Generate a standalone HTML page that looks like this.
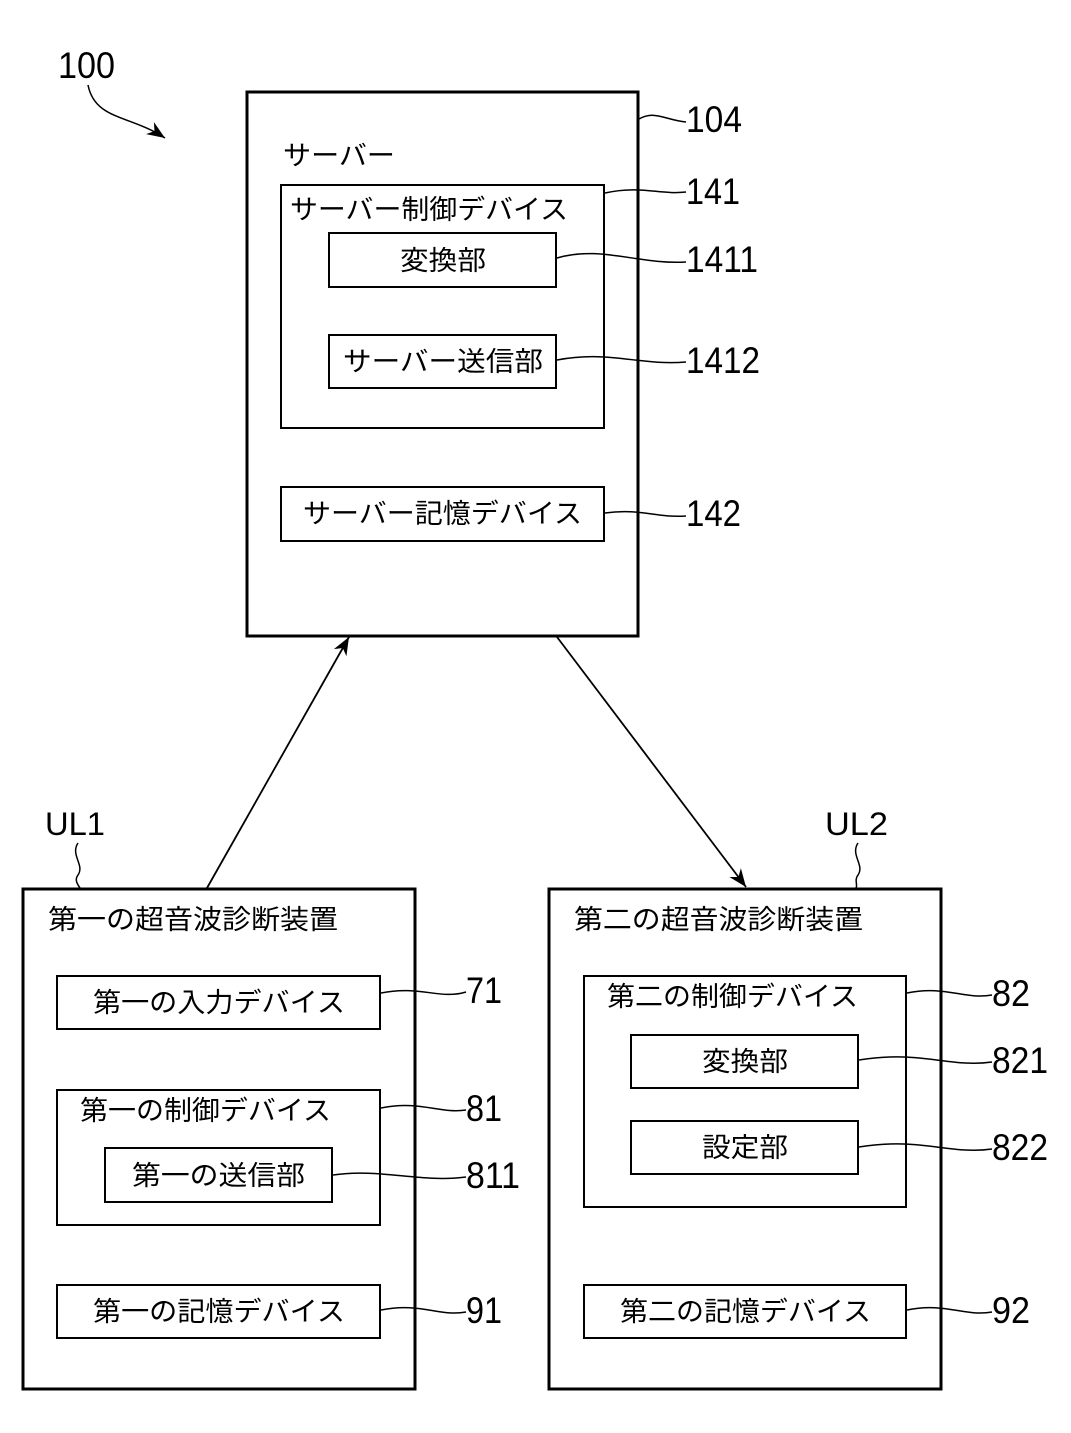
<!DOCTYPE html>
<html><head><meta charset="utf-8"><style>
html,body{margin:0;padding:0;background:#fff;}
svg{display:block;}
.j{font-family:"Liberation Sans","Noto Sans CJK JP",sans-serif;font-size:27px;fill:#000;}
.n{font-family:"Liberation Sans",sans-serif;font-size:37px;fill:#000;}
.u{font-family:"Liberation Sans",sans-serif;font-size:32px;fill:#000;}
</style></head><body>
<svg width="1071" height="1433" viewBox="0 0 1071 1433" xmlns="http://www.w3.org/2000/svg">
<defs>
<marker id="ah" viewBox="0 0 10 10" refX="10" refY="5" markerWidth="10" markerHeight="10" markerUnits="userSpaceOnUse" orient="auto">
<path d="M0,1 L10,5 L0,9 L3,5 z" fill="#000"/>
</marker>
<marker id="ah2" viewBox="0 0 10 10" refX="10" refY="5" markerWidth="22" markerHeight="18" markerUnits="userSpaceOnUse" orient="auto">
<path d="M0,1 L10,5 L0,9 L3,5 z" fill="#000"/>
</marker>
</defs>
<g fill="none" stroke="#000">
<!-- server -->
<rect x="247" y="92" width="391" height="544" stroke-width="3"/>
<rect x="281" y="185" width="323" height="243" stroke-width="2"/>
<rect x="329" y="233" width="227" height="54" stroke-width="2"/>
<rect x="329" y="335" width="227" height="53" stroke-width="2"/>
<rect x="281" y="487" width="323" height="54" stroke-width="2"/>
<!-- UL1 -->
<rect x="23" y="889" width="392" height="500" stroke-width="3"/>
<rect x="57" y="976" width="323" height="53" stroke-width="2"/>
<rect x="57" y="1090" width="323" height="135" stroke-width="2"/>
<rect x="105" y="1148" width="227" height="54" stroke-width="2"/>
<rect x="57" y="1285" width="323" height="53" stroke-width="2"/>
<!-- UL2 -->
<rect x="549" y="889" width="392" height="500" stroke-width="3"/>
<rect x="584" y="976" width="322" height="231" stroke-width="2"/>
<rect x="631" y="1035" width="227" height="53" stroke-width="2"/>
<rect x="631" y="1121" width="227" height="53" stroke-width="2"/>
<rect x="584" y="1285" width="322" height="53" stroke-width="2"/>
<!-- leaders -->
<g stroke-width="1.5">
<path d="M639,119 C655,110 665,120 686,122"/>
<path d="M605,193 C640,185 660,195 686,192"/>
<path d="M557,258 C600,245 640,265 686,262"/>
<path d="M557,360 C610,350 640,366 686,362"/>
<path d="M605,513 C640,508 655,518 686,516"/>
<path d="M381,993 C420,985 440,1000 466,992"/>
<path d="M381,1108 C420,1100 440,1114 466,1110"/>
<path d="M333,1175 C380,1168 420,1183 466,1177"/>
<path d="M381,1310 C420,1302 440,1317 466,1312"/>
<path d="M907,993 C945,985 965,1000 992,995"/>
<path d="M859,1060 C920,1050 950,1068 992,1062"/>
<path d="M859,1147 C920,1137 950,1155 992,1149"/>
<path d="M907,1310 C945,1302 965,1317 992,1312"/>
<path d="M78,843 C70,855 85,865 78,875 C74,880 78,885 80,888"/>
<path d="M858,843 C850,855 865,865 858,875 C854,880 858,885 856,888"/>
</g>
<path d="M88,85 C95,120 130,115 165,138" stroke-width="1.5" marker-end="url(#ah2)"/>
<path d="M207,888 L349,637" stroke-width="1.8" marker-end="url(#ah2)"/>
<path d="M557,637 L746,887" stroke-width="1.8" marker-end="url(#ah2)"/>
</g>
<!-- text -->
<text class="j" x="283" y="165" textLength="112" lengthAdjust="spacingAndGlyphs">サーバー</text>
<text class="j" x="290" y="219" textLength="278" lengthAdjust="spacingAndGlyphs">サーバー制御デバイス</text>
<text class="j" x="400" y="270" textLength="86" lengthAdjust="spacingAndGlyphs">変換部</text>
<text class="j" x="343" y="371" textLength="200" lengthAdjust="spacingAndGlyphs">サーバー送信部</text>
<text class="j" x="303" y="523" textLength="279" lengthAdjust="spacingAndGlyphs">サーバー記憶デバイス</text>
<text class="j" x="48" y="929" textLength="290" lengthAdjust="spacingAndGlyphs">第一の超音波診断装置</text>
<text class="j" x="93" y="1012" textLength="252" lengthAdjust="spacingAndGlyphs">第一の入力デバイス</text>
<text class="j" x="80" y="1120" textLength="251" lengthAdjust="spacingAndGlyphs">第一の制御デバイス</text>
<text class="j" x="132" y="1185" textLength="173" lengthAdjust="spacingAndGlyphs">第一の送信部</text>
<text class="j" x="93" y="1321" textLength="252" lengthAdjust="spacingAndGlyphs">第一の記憶デバイス</text>
<text class="j" x="574" y="929" textLength="289" lengthAdjust="spacingAndGlyphs">第二の超音波診断装置</text>
<text class="j" x="607" y="1006" textLength="251" lengthAdjust="spacingAndGlyphs">第二の制御デバイス</text>
<text class="j" x="702" y="1071" textLength="86" lengthAdjust="spacingAndGlyphs">変換部</text>
<text class="j" x="702" y="1157" textLength="86" lengthAdjust="spacingAndGlyphs">設定部</text>
<text class="j" x="620" y="1321" textLength="251" lengthAdjust="spacingAndGlyphs">第二の記憶デバイス</text>
<text class="n" x="58" y="78" textLength="57" lengthAdjust="spacingAndGlyphs">100</text>
<text class="n" x="686" y="132" textLength="56" lengthAdjust="spacingAndGlyphs">104</text>
<text class="n" x="686" y="204" textLength="54" lengthAdjust="spacingAndGlyphs">141</text>
<text class="n" x="686" y="272" textLength="72" lengthAdjust="spacingAndGlyphs">1411</text>
<text class="n" x="686" y="373" textLength="74" lengthAdjust="spacingAndGlyphs">1412</text>
<text class="n" x="686" y="526" textLength="55" lengthAdjust="spacingAndGlyphs">142</text>
<text class="n" x="466" y="1003" textLength="36" lengthAdjust="spacingAndGlyphs">71</text>
<text class="n" x="466" y="1121" textLength="36" lengthAdjust="spacingAndGlyphs">81</text>
<text class="n" x="466" y="1188" textLength="54" lengthAdjust="spacingAndGlyphs">811</text>
<text class="n" x="466" y="1323" textLength="36" lengthAdjust="spacingAndGlyphs">91</text>
<text class="n" x="992" y="1006" textLength="38" lengthAdjust="spacingAndGlyphs">82</text>
<text class="n" x="992" y="1073" textLength="56" lengthAdjust="spacingAndGlyphs">821</text>
<text class="n" x="992" y="1160" textLength="56" lengthAdjust="spacingAndGlyphs">822</text>
<text class="n" x="992" y="1323" textLength="38" lengthAdjust="spacingAndGlyphs">92</text>
<text class="u" x="45" y="835" textLength="60" lengthAdjust="spacingAndGlyphs">UL1</text>
<text class="u" x="825" y="835" textLength="63" lengthAdjust="spacingAndGlyphs">UL2</text>
</svg>
</body></html>
